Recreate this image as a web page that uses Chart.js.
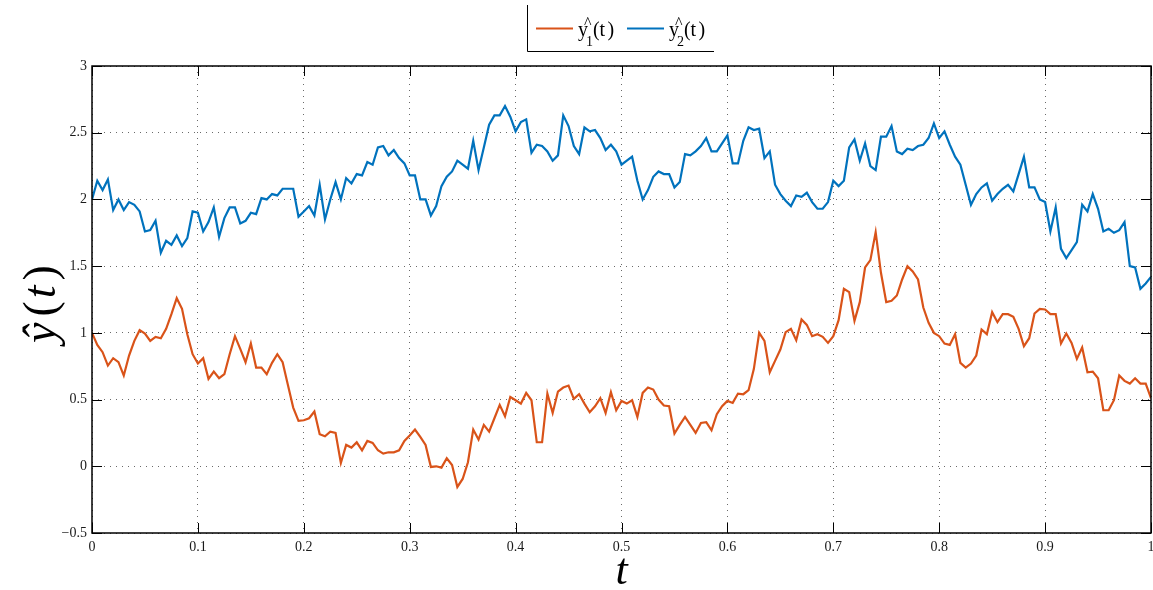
<!DOCTYPE html>
<html>
<head>
<meta charset="utf-8">
<script src="https://cdn.jsdelivr.net/npm/chart.js@4/dist/chart.umd.min.js"></script>
<style>
  html, body { margin: 0; padding: 0; background: #ffffff; }
  canvas { display: block; }
</style>
</head>
<body>
<canvas id="chart" width="1153" height="590"></canvas>
<script>
// Sample times t
const tValues = [
  0.000, 0.005, 0.010, 0.015, 0.020, 0.025, 0.030, 0.035, 0.040, 0.045,
  0.050, 0.055, 0.060, 0.065, 0.070, 0.075, 0.080, 0.085, 0.090, 0.095,
  0.100, 0.105, 0.110, 0.115, 0.120, 0.125, 0.130, 0.135, 0.140, 0.145,
  0.150, 0.155, 0.160, 0.165, 0.170, 0.175, 0.180, 0.185, 0.190, 0.195,
  0.200, 0.205, 0.210, 0.215, 0.220, 0.225, 0.230, 0.235, 0.240, 0.245,
  0.250, 0.255, 0.260, 0.265, 0.270, 0.275, 0.280, 0.285, 0.290, 0.295,
  0.300, 0.305, 0.310, 0.315, 0.320, 0.325, 0.330, 0.335, 0.340, 0.345,
  0.350, 0.355, 0.360, 0.365, 0.370, 0.375, 0.380, 0.385, 0.390, 0.395,
  0.400, 0.405, 0.410, 0.415, 0.420, 0.425, 0.430, 0.435, 0.440, 0.445,
  0.450, 0.455, 0.460, 0.465, 0.470, 0.475, 0.480, 0.485, 0.490, 0.495,
  0.500, 0.505, 0.510, 0.515, 0.520, 0.525, 0.530, 0.535, 0.540, 0.545,
  0.550, 0.555, 0.560, 0.565, 0.570, 0.575, 0.580, 0.585, 0.590, 0.595,
  0.600, 0.605, 0.610, 0.615, 0.620, 0.625, 0.630, 0.635, 0.640, 0.645,
  0.650, 0.655, 0.660, 0.665, 0.670, 0.675, 0.680, 0.685, 0.690, 0.695,
  0.700, 0.705, 0.710, 0.715, 0.720, 0.725, 0.730, 0.735, 0.740, 0.745,
  0.750, 0.755, 0.760, 0.765, 0.770, 0.775, 0.780, 0.785, 0.790, 0.795,
  0.800, 0.805, 0.810, 0.815, 0.820, 0.825, 0.830, 0.835, 0.840, 0.845,
  0.850, 0.855, 0.860, 0.865, 0.870, 0.875, 0.880, 0.885, 0.890, 0.895,
  0.900, 0.905, 0.910, 0.915, 0.920, 0.925, 0.930, 0.935, 0.940, 0.945,
  0.950, 0.955, 0.960, 0.965, 0.970, 0.975, 0.980, 0.985, 0.990, 0.995,
  1.000
];

// Estimate y1^(t)
const y1Hat = [
  1.00, 0.91, 0.855, 0.755, 0.81, 0.78, 0.68, 0.83, 0.94, 1.02,
  0.995, 0.94, 0.97, 0.96, 1.03, 1.14, 1.26, 1.18, 0.99, 0.84,
  0.77, 0.81, 0.655, 0.71, 0.66, 0.69, 0.84, 0.975, 0.88, 0.78,
  0.92, 0.74, 0.74, 0.69, 0.775, 0.84, 0.78, 0.61, 0.44, 0.34,
  0.345, 0.36, 0.41, 0.24, 0.225, 0.26, 0.25, 0.025, 0.16, 0.14,
  0.18, 0.12, 0.19, 0.175, 0.12, 0.095, 0.105, 0.105, 0.12, 0.19,
  0.23, 0.275, 0.22, 0.16, -0.005, 0.00, -0.01, 0.06, 0.01, -0.155,
  -0.095, 0.03, 0.275, 0.20, 0.31, 0.26, 0.36, 0.46, 0.375, 0.52,
  0.495, 0.47, 0.55, 0.495, 0.18, 0.18, 0.545, 0.40, 0.56, 0.59,
  0.605, 0.505, 0.54, 0.47, 0.405, 0.45, 0.51, 0.40, 0.555, 0.42,
  0.49, 0.47, 0.495, 0.37, 0.55, 0.59, 0.575, 0.50, 0.455, 0.45,
  0.245, 0.31, 0.37, 0.31, 0.25, 0.325, 0.33, 0.27, 0.39, 0.45,
  0.49, 0.475, 0.545, 0.54, 0.57, 0.73, 1.00, 0.94, 0.705, 0.79,
  0.875, 1.005, 1.03, 0.945, 1.10, 1.06, 0.975, 0.99, 0.97, 0.925,
  0.975, 1.095, 1.33, 1.305, 1.09, 1.23, 1.49, 1.545, 1.755, 1.45,
  1.23, 1.24, 1.28, 1.40, 1.50, 1.46, 1.40, 1.19, 1.075, 1.00,
  0.975, 0.92, 0.91, 0.99, 0.775, 0.74, 0.77, 0.83, 1.025, 0.99,
  1.155, 1.08, 1.14, 1.14, 1.12, 1.03, 0.90, 0.96, 1.145, 1.18,
  1.175, 1.14, 1.14, 0.92, 0.995, 0.925, 0.805, 0.89, 0.705, 0.71,
  0.66, 0.42, 0.42, 0.495, 0.68, 0.64, 0.62, 0.66, 0.62, 0.62,
  0.51
];

// Estimate y2^(t)
const y2Hat = [
  2.00, 2.14, 2.07, 2.15, 1.92, 2.00, 1.92, 1.98, 1.96, 1.91,
  1.76, 1.77, 1.84, 1.60, 1.69, 1.66, 1.73, 1.65, 1.71, 1.91,
  1.90, 1.76, 1.83, 1.94, 1.72, 1.86, 1.94, 1.94, 1.82, 1.84,
  1.90, 1.89, 2.01, 2.00, 2.04, 2.03, 2.08, 2.08, 2.08, 1.87,
  1.91, 1.95, 1.88, 2.11, 1.85, 2.00, 2.13, 2.00, 2.16, 2.12,
  2.19, 2.18, 2.28, 2.26, 2.39, 2.40, 2.33, 2.37, 2.31, 2.27,
  2.18, 2.18, 2.00, 2.00, 1.88, 1.95, 2.10, 2.17, 2.21, 2.29,
  2.26, 2.23, 2.44, 2.22, 2.39, 2.56, 2.63, 2.63, 2.70, 2.62,
  2.51, 2.58, 2.60, 2.35, 2.41, 2.40, 2.36, 2.29, 2.33, 2.63,
  2.55, 2.40, 2.34, 2.54, 2.51, 2.52, 2.46, 2.37, 2.41, 2.36,
  2.26, 2.29, 2.32, 2.14, 2.00, 2.07, 2.17, 2.21, 2.19, 2.19,
  2.09, 2.13, 2.34, 2.33, 2.36, 2.40, 2.46, 2.36, 2.36, 2.42,
  2.48, 2.27, 2.27, 2.44, 2.54, 2.52, 2.53, 2.31, 2.36, 2.11,
  2.04, 1.99, 1.95, 2.03, 2.02, 2.05, 1.98, 1.93, 1.93, 1.98,
  2.14, 2.10, 2.14, 2.39, 2.45, 2.29, 2.42, 2.25, 2.22, 2.47,
  2.47, 2.55, 2.36, 2.34, 2.38, 2.37, 2.40, 2.41, 2.46, 2.57,
  2.46, 2.51, 2.41, 2.32, 2.26, 2.11, 1.96, 2.04, 2.09, 2.12,
  1.99, 2.04, 2.08, 2.11, 2.06, 2.19, 2.32, 2.09, 2.09, 2.00,
  1.98, 1.76, 1.94, 1.63, 1.56, 1.62, 1.68, 1.96, 1.91, 2.04,
  1.93, 1.76, 1.78, 1.75, 1.77, 1.83, 1.50, 1.49, 1.33, 1.37,
  1.42
];

// Axis ticks and their labels
const xTickValues = [0, 0.1, 0.2, 0.3, 0.4, 0.5, 0.6, 0.7, 0.8, 0.9, 1];
const xTickLabels = ['0', '0.1', '0.2', '0.3', '0.4', '0.5', '0.6', '0.7', '0.8', '0.9', '1'];
const yTickValues = [-0.5, 0, 0.5, 1, 1.5, 2, 2.5, 3];
const yTickLabels = ['\u22120.5', '0', '0.5', '1', '1.5', '2', '2.5', '3'];

const COLOR_Y1 = '#D95319';
const COLOR_Y2 = '#0072BD';
const SERIF = '"Liberation Serif", "Times New Roman", serif';

function points(values) {
  return values.map((v, i) => ({ x: tValues[i], y: v }));
}

function tickSetter(values) {
  return scale => { scale.ticks = values.map(v => ({ value: v })); };
}

// Box around the axes, with short inward tick marks on all four sides
const axesFrame = {
  id: 'axesFrame',
  afterDatasetsDraw(chart) {
    const { ctx, chartArea: a, scales } = chart;
    const len = 10;
    ctx.save();
    ctx.strokeStyle = '#000';
    ctx.lineWidth = 1;
    ctx.beginPath();
    xTickValues.forEach(v => {
      const x = Math.round(scales.x.getPixelForValue(v)) + 0.5;
      ctx.moveTo(x, a.bottom); ctx.lineTo(x, a.bottom - len);
      ctx.moveTo(x, a.top); ctx.lineTo(x, a.top + len);
    });
    yTickValues.forEach(v => {
      const y = Math.round(scales.y.getPixelForValue(v)) + 0.5;
      ctx.moveTo(a.left, y); ctx.lineTo(a.left + len, y);
      ctx.moveTo(a.right, y); ctx.lineTo(a.right - len, y);
    });
    ctx.stroke();
    ctx.lineWidth = 1.5;
    ctx.strokeRect(a.left, a.top, a.right - a.left, a.bottom - a.top);
    ctx.restore();
  }
};

// Axis titles in math style
const axisTitles = {
  id: 'axisTitles',
  afterDraw(chart) {
    const { ctx, chartArea: a } = chart;
    ctx.save();
    ctx.fillStyle = '#000';
    ctx.textBaseline = 'alphabetic';
    // horizontal title: t
    ctx.font = 'italic 44px ' + SERIF;
    ctx.textAlign = 'center';
    ctx.fillText('t', (a.left + a.right) / 2, 584);
    // vertical title: y-hat(t)
    ctx.translate(55, 304);
    ctx.rotate(-Math.PI / 2);
    const parts = [
      { s: '\u0177', f: 'italic 46px ' + SERIF, gap: 6 },
      { s: '(', f: '46px ' + SERIF, gap: 3 },
      { s: 't', f: 'italic 46px ' + SERIF, gap: 5 },
      { s: ')', f: '46px ' + SERIF, gap: 0 }
    ];
    let total = 0;
    parts.forEach(p => { ctx.font = p.f; p.w = ctx.measureText(p.s).width; total += p.w + p.gap; });
    let x = -total / 2;
    ctx.textAlign = 'left';
    parts.forEach(p => { ctx.font = p.f; ctx.fillText(p.s, x, 0); x += p.w + p.gap; });
    ctx.restore();
  }
};

// Legend block at the top
const hatLegend = {
  id: 'hatLegend',
  afterDraw(chart) {
    const { ctx } = chart;
    const entries = [
      { color: chart.data.datasets[0].borderColor, sub: '1', x: 536 },
      { color: chart.data.datasets[1].borderColor, sub: '2', x: 627 }
    ];
    ctx.save();
    ctx.strokeStyle = '#000';
    ctx.lineWidth = 1;
    ctx.beginPath();
    ctx.moveTo(527.5, 5); ctx.lineTo(527.5, 51.5); ctx.lineTo(714, 51.5);
    ctx.stroke();
    entries.forEach(e => {
      ctx.strokeStyle = e.color;
      ctx.lineWidth = 2.2;
      ctx.beginPath();
      ctx.moveTo(e.x, 28.5); ctx.lineTo(e.x + 37, 28.5);
      ctx.stroke();
      ctx.fillStyle = '#000';
      ctx.textAlign = 'left';
      ctx.textBaseline = 'alphabetic';
      const tx = e.x + 42;
      ctx.font = '20px ' + SERIF;
      ctx.fillText('y', tx, 36);
      ctx.font = '16px ' + SERIF;
      ctx.fillText('^', tx + 6, 28);
      ctx.font = '14px ' + SERIF;
      ctx.fillText(e.sub, tx + 8, 46);
      ctx.font = '20px ' + SERIF;
      ctx.fillText('(', tx + 15, 36);
      ctx.fillText('t', tx + 21.5, 36);
      ctx.fillText(')', tx + 29.5, 36);
    });
    ctx.restore();
  }
};

const gridStyle = { color: '#6a6a6a', lineWidth: 1, drawTicks: false };

new Chart(document.getElementById('chart'), {
  type: 'line',
  data: {
    datasets: [
      { label: 'y1^(t)', data: points(y1Hat), borderColor: COLOR_Y1, borderWidth: 2.2,
        pointRadius: 0, tension: 0, fill: false },
      { label: 'y2^(t)', data: points(y2Hat), borderColor: COLOR_Y2, borderWidth: 2.2,
        pointRadius: 0, tension: 0, fill: false }
    ]
  },
  options: {
    responsive: false,
    animation: false,
    layout: { padding: { top: 66, right: 2, left: 0, bottom: 0 } },
    plugins: { legend: { display: false }, tooltip: { enabled: false } },
    scales: {
      x: {
        type: 'linear', min: 0, max: 1,
        afterBuildTicks: tickSetter(xTickValues),
        afterFit(scale) { scale.height = 57; scale.paddingLeft = 0; scale.paddingRight = 0; },
        ticks: {
          padding: 6, color: '#1a1a1a', font: { family: SERIF, size: 14 },
          maxRotation: 0, autoSkip: false,
          callback: (v) => xTickLabels[xTickValues.indexOf(v)]
        },
        grid: gridStyle,
        border: { display: false, dash: [1, 5] }
      },
      y: {
        min: -0.5, max: 3,
        afterBuildTicks: tickSetter(yTickValues),
        afterFit(scale) { scale.width = 92; scale.paddingTop = 0; scale.paddingBottom = 0; },
        ticks: {
          padding: 5, color: '#1a1a1a', font: { family: SERIF, size: 14 },
          autoSkip: false,
          callback: (v) => yTickLabels[yTickValues.indexOf(v)]
        },
        grid: gridStyle,
        border: { display: false, dash: [1, 5] }
      }
    }
  },
  plugins: [axesFrame, axisTitles, hatLegend]
});
</script>
</body>
</html>
